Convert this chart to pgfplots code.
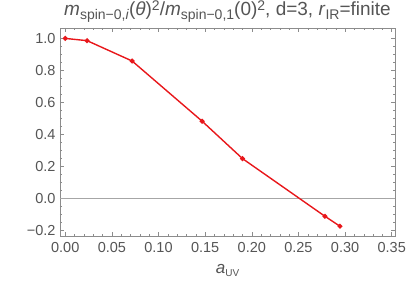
\documentclass[border=0pt]{standalone}
\usepackage{fontspec}
\setmainfont{Liberation Sans}
\usepackage{pgfplots}
\pgfplotsset{compat=1.18}
\definecolor{txt}{HTML}{555555}
\definecolor{frm}{HTML}{8C8C8C}
\definecolor{zl}{HTML}{A6A6A6}
\definecolor{ln}{HTML}{E8171B}
\newcommand\sbs[1]{\raisebox{-3.5pt}{\fontsize{14}{14}\selectfont #1}}
\newcommand\sps[1]{\raisebox{5pt}{\fontsize{14}{14}\selectfont #1}}
\begin{document}
\begin{tikzpicture}
\useasboundingbox (-60pt,-52pt) rectangle (347pt,236pt);
\begin{axis}[
  at={(0,0)}, anchor=south west,
  scale only axis, width=335pt, height=208pt,
  xmin=-0.0056, xmax=0.3535, ymin=-0.233, ymax=1.065,
  axis line style={frm, line width=0.6pt},
  tick style={frm, line width=0.5pt},
  major tick length=4pt, minor tick length=2.2pt,
  tick align=inside,
  xtick={0,0.05,0.1,0.15,0.2,0.25,0.3,0.35},
  xticklabels={0.00,0.05,0.10,0.15,0.20,0.25,0.30,0.35},
  minor x tick num=4,
  ytick={-0.2,0,0.2,0.4,0.6,0.8,1.0},
  yticklabels={\textminus0.2,0.0,0.2,0.4,0.6,0.8,1.0},
  minor y tick num=3,
  every tick label/.append style={font=\fontsize{14.5}{16}\selectfont, text=txt},
  xticklabel style={yshift=-3pt},
  yticklabel style={xshift=-1pt},
  xlabel={\textit{a}\raisebox{-3pt}{\fontsize{10}{10}\selectfont UV}},
  xlabel style={font=\fontsize{17}{18}\selectfont, text=txt, at={(0.5,0)}, anchor=center, yshift=-34pt},
  every axis title shift/.style={yshift=0pt},
  title={\textit{m}\sbs{spin\textminus0,\textit{i}}(\textit{θ})\sps{2}/\textit{m}\sbs{spin\textminus0,1}(0)\sps{2}, d=3, \textit{r}\sbs{IR}=finite},
  title style={font=\fontsize{19}{20}\selectfont, text=txt, at={(0.5,1)}, anchor=base, yshift=6pt, inner sep=0pt},
  clip=false,
]
\addplot[zl, line width=0.6pt, forget plot] coordinates {(-0.0056,0) (0.3535,0)};
\addplot[ln, line width=1.4pt, mark=*, mark size=1.7pt, mark options={solid, fill=ln, draw=ln}] coordinates {
(0.0,1.0)
(0.0234,0.986)
(0.0717,0.859)
(0.1468,0.483)
(0.190,0.250)
(0.2784,-0.110)
(0.2945,-0.172)
};
\end{axis}
\end{tikzpicture}
\end{document}
